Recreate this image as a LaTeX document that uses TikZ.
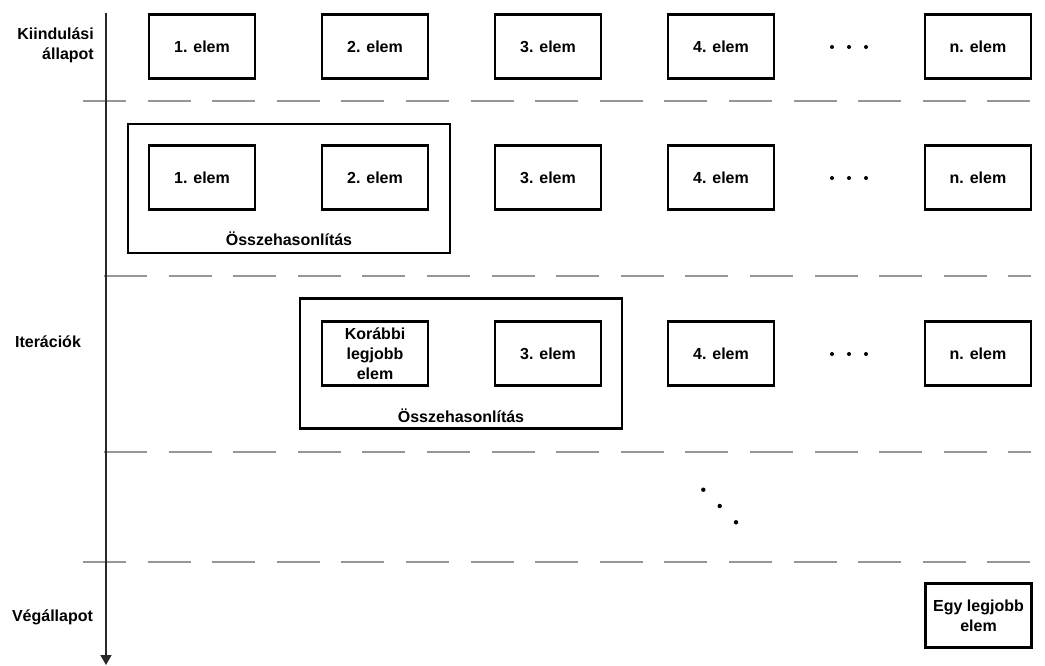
\documentclass[tikz,border=0pt]{standalone}
\usepackage{fontspec}
\setmainfont{Liberation Sans}
\usetikzlibrary{arrows.meta}
\definecolor{dashgray}{RGB}{150,150,150}
\definecolor{axisgray}{RGB}{40,40,40}
\begin{document}
\begin{tikzpicture}[x=1pt,y=-1pt,
  every node/.style={font=\fontsize{16}{20}\selectfont\bfseries, inner sep=0pt},
  elembox/.style={draw=black, line width=2.4pt, minimum width=106pt, minimum height=64pt, align=center},
  groupbox/.style={draw=black, line width=2.4pt},
  sepline/.style={draw=dashgray, line width=2.6pt, dash pattern=on 43pt off 21.6pt},
  dotmark/.style={fill=black},
  rowlabel/.style={align=right}
]
\useasboundingbox (0,0) rectangle (1045,666);

% separators
\draw[sepline] (83,101) -- (1031,101);
\draw[sepline] (104,276) -- (1031,276);
\draw[sepline] (104,452) -- (1031,452);
\draw[sepline] (83,562) -- (1031,562);

% axis
\coordinate (axtop) at (106,13);
\coordinate (axbot) at (106,665);
\draw[axisgray, line width=1.4pt, -{Triangle[width=11pt,length=10pt]}] (axtop) -- (axbot);

% row labels
\node[rowlabel, anchor=east] (lstart) at (94,45.5) {Kiindulási\\állapot};
\node (liter) at (48,342) {Iterációk};
\node (lend) at (52.5,617) {Végállapot};

% row 1
\node[elembox] (a1) at (202,46.5) {1. elem};
\node[elembox] (a2) at (375,46.5) {2. elem};
\node[elembox] (a3) at (548,46.5) {3. elem};
\node[elembox] (a4) at (721,46.5) {4. elem};
\node[elembox] (an) at (978,46.5) {n. elem};
\foreach \x in {832,849,866} \fill[dotmark] (\x,47) circle (2pt);

% row 2
\node[groupbox, minimum width=322pt, minimum height=129pt] (g2) at (289,188.5) {};
\node (c2) at (289,239) {Összehasonlítás};
\node[elembox] (b1) at (202,177.5) {1. elem};
\node[elembox] (b2) at (375,177.5) {2. elem};
\node[elembox] (b3) at (548,177.5) {3. elem};
\node[elembox] (b4) at (721,177.5) {4. elem};
\node[elembox] (bn) at (978,177.5) {n. elem};
\foreach \x in {832,849,866} \fill[dotmark] (\x,178) circle (2pt);

% row 3
\node[groupbox, minimum width=322pt, minimum height=130pt] (g3) at (461,363.5) {};
\node (c3) at (461,416) {Összehasonlítás};
\node[elembox] (r1) at (375,353.5) {Korábbi\\legjobb\\elem};
\node[elembox] (r3) at (548,353.5) {3. elem};
\node[elembox] (r4) at (721,353.5) {4. elem};
\node[elembox] (rn) at (978,353.5) {n. elem};
\foreach \x in {832,849,866} \fill[dotmark] (\x,354) circle (2pt);

% vertical dots
\fill[dotmark] (703.3,489.7) circle (2.2pt);
\fill[dotmark] (719.7,506) circle (2.2pt);
\fill[dotmark] (736,522.3) circle (2.2pt);

% final
\node[elembox] (fin) at (978.5,615.5) {Egy legjobb\\elem};
\end{tikzpicture}
\end{document}
